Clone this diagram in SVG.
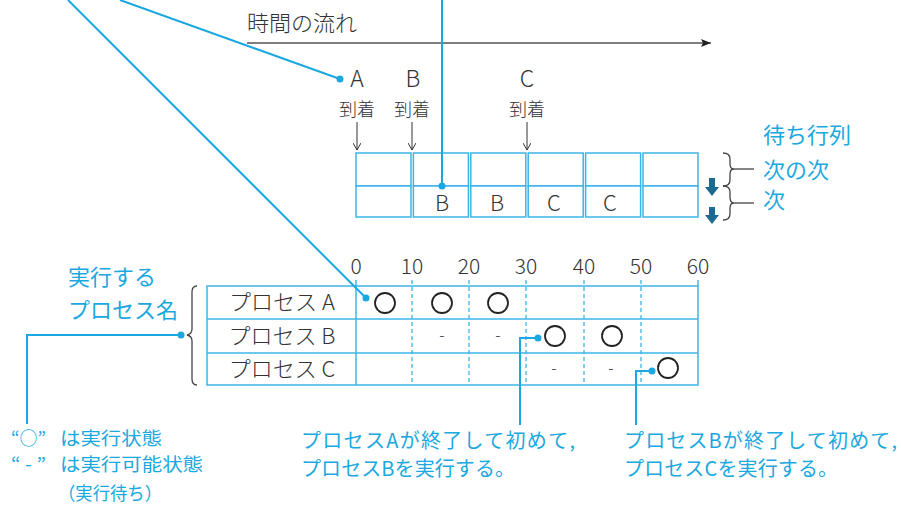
<svg xmlns="http://www.w3.org/2000/svg" width="901" height="507" viewBox="0 0 901 507">
<defs>
<style>
text{font-family:"Noto Sans CJK JP","Noto Sans",sans-serif}
.dk{fill:#333;font-weight:300}
.cy{fill:#1ba8e0}
.lead{stroke:#1ba8e0;stroke-width:2;fill:none}
.cell{stroke:#3db4e9;stroke-width:1.5;fill:#fff}
.grid{stroke:#3db4e9;stroke-width:1.5;fill:none}
.dash{stroke:#3db4e9;stroke-width:1.3;stroke-dasharray:4 3;fill:none}
.brace{stroke:#444;stroke-width:1.3;fill:none}
.run{stroke:#222;stroke-width:1.8;fill:none}
.dot{fill:#1ba8e0}
.darr{fill:#1b6a92}
</style>
<marker id="ah" viewBox="0 0 10 8" refX="10" refY="4" markerWidth="10" markerHeight="8" markerUnits="userSpaceOnUse" orient="auto">
<path d="M0,0 L10,4 L0,8 L2,4 Z" fill="#222"/>
</marker>
<marker id="va" viewBox="0 0 8 8" refX="4" refY="8" markerWidth="8" markerHeight="8" markerUnits="userSpaceOnUse" orient="0">
<path d="M0,1 L4,8 L8,1" fill="none" stroke="#333" stroke-width="1"/>
</marker>
</defs>

<g id="timeline">
<text x="247" y="31" font-size="22" class="dk">時間の流れ</text>
<line x1="247" y1="43" x2="711" y2="43" stroke="#555" stroke-width="1.5" marker-end="url(#ah)"/>
</g>

<g id="arrivals">
<text x="357" y="87" font-size="23" class="dk" text-anchor="middle">A</text>
<text x="413" y="87" font-size="23" class="dk" text-anchor="middle">B</text>
<text x="527" y="87" font-size="23" class="dk" text-anchor="middle">C</text>
<text x="357" y="116" font-size="18" class="dk" text-anchor="middle">到着</text>
<text x="412" y="116" font-size="18" class="dk" text-anchor="middle">到着</text>
<text x="527" y="116" font-size="18" class="dk" text-anchor="middle">到着</text>
<line x1="357" y1="122" x2="357" y2="150" stroke="#333" stroke-width="1" marker-end="url(#va)"/>
<line x1="412" y1="122" x2="412" y2="150" stroke="#333" stroke-width="1" marker-end="url(#va)"/>
<line x1="527" y1="122" x2="527" y2="150" stroke="#333" stroke-width="1" marker-end="url(#va)"/>
</g>

<g id="queue">
<rect class="cell" x="356" y="153" width="55" height="33"/><rect class="cell" x="356" y="186" width="55" height="31"/>
<rect class="cell" x="413.4" y="153" width="55" height="33"/><rect class="cell" x="413.4" y="186" width="55" height="31"/>
<rect class="cell" x="470.8" y="153" width="55" height="33"/><rect class="cell" x="470.8" y="186" width="55" height="31"/>
<rect class="cell" x="528.2" y="153" width="55" height="33"/><rect class="cell" x="528.2" y="186" width="55" height="31"/>
<rect class="cell" x="585.6" y="153" width="55" height="33"/><rect class="cell" x="585.6" y="186" width="55" height="31"/>
<rect class="cell" x="643" y="153" width="55" height="33"/><rect class="cell" x="643" y="186" width="55" height="31"/>
<text x="442" y="211" font-size="22" class="dk" text-anchor="middle">B</text>
<text x="497" y="211" font-size="22" class="dk" text-anchor="middle">B</text>
<text x="554" y="211" font-size="22" class="dk" text-anchor="middle">C</text>
<text x="610" y="211" font-size="22" class="dk" text-anchor="middle">C</text>
<path class="darr" d="M709,178 h6 v9 h4 l-7,9 l-7,-9 h4 Z"/>
<path class="darr" d="M709,207 h6 v8 h4 l-7,9 l-7,-9 h4 Z"/>
<path class="brace" d="M723,153 q7,0 7,6 v5 q0,5 4,5 q-4,0 -4,5 v6 q0,6 -7,6"/>
<path class="brace" d="M723,186 q7,0 7,6 v5 q0,6 4,6 q-4,0 -4,5 v6 q0,6 -7,6"/>
<line x1="734" y1="169" x2="754" y2="169" stroke="#444" stroke-width="1.3"/>
<line x1="734" y1="203" x2="754" y2="203" stroke="#444" stroke-width="1.3"/>
<text x="763" y="143" font-size="22" class="cy">待ち行列</text>
<text x="763" y="178" font-size="22" class="cy">次の次</text>
<text x="763" y="208" font-size="22" class="cy">次</text>
</g>

<g id="table">
<text x="356" y="274" font-size="21" class="dk" text-anchor="middle">0</text>
<text x="412" y="274" font-size="21" class="dk" text-anchor="middle">10</text>
<text x="469" y="274" font-size="21" class="dk" text-anchor="middle">20</text>
<text x="526" y="274" font-size="21" class="dk" text-anchor="middle">30</text>
<text x="584" y="274" font-size="21" class="dk" text-anchor="middle">40</text>
<text x="641" y="274" font-size="21" class="dk" text-anchor="middle">50</text>
<text x="698" y="274" font-size="21" class="dk" text-anchor="middle">60</text>
<rect class="grid" x="207" y="286" width="491" height="99"/>
<line class="grid" x1="207" y1="319" x2="698" y2="319"/>
<line class="grid" x1="207" y1="353" x2="698" y2="353"/>
<line class="grid" x1="356" y1="280" x2="356" y2="385"/>
<line class="grid" x1="698" y1="280" x2="698" y2="286"/>
<line class="dash" x1="412" y1="280" x2="412" y2="385"/>
<line class="dash" x1="469" y1="280" x2="469" y2="385"/>
<line class="dash" x1="526" y1="280" x2="526" y2="385"/>
<line class="dash" x1="584" y1="280" x2="584" y2="385"/>
<line class="dash" x1="641" y1="280" x2="641" y2="385"/>
<text x="282" y="310" font-size="22" class="dk" text-anchor="middle">プロセス A</text>
<text x="282" y="344" font-size="22" class="dk" text-anchor="middle">プロセス B</text>
<text x="282" y="377" font-size="22" class="dk" text-anchor="middle">プロセス C</text>
<circle class="run" cx="385" cy="303" r="10"/>
<circle class="run" cx="442" cy="303" r="10"/>
<circle class="run" cx="498" cy="303" r="10"/>
<circle class="run" cx="555" cy="336" r="10"/>
<circle class="run" cx="612" cy="336" r="10"/>
<circle class="run" cx="668" cy="368" r="10"/>
<text x="442" y="341" font-size="16" class="dk" text-anchor="middle">-</text>
<text x="498" y="341" font-size="16" class="dk" text-anchor="middle">-</text>
<text x="554" y="374" font-size="16" class="dk" text-anchor="middle">-</text>
<text x="611" y="374" font-size="16" class="dk" text-anchor="middle">-</text>
<path class="brace" d="M197,286 q-5,0 -5,6 v37 q0,5 -5,6 q5,1 5,6 v38 q0,6 5,6"/>
<text x="68" y="285" font-size="22" class="cy">実行する</text>
<text x="68" y="318" font-size="22" class="cy">プロセス名</text>
</g>

<g id="notes">
<text x="11" y="445" font-size="18" class="cy" textLength="35" lengthAdjust="spacingAndGlyphs">“○”</text>
<text x="60" y="445" font-size="18" class="cy" textLength="102" lengthAdjust="spacingAndGlyphs">は実行状態</text>
<text x="11" y="471" font-size="18" class="cy" textLength="35" lengthAdjust="spacingAndGlyphs">“ - ”</text>
<text x="60" y="471" font-size="18" class="cy" textLength="143" lengthAdjust="spacingAndGlyphs">は実行可能状態</text>
<text x="58" y="500" font-size="18" class="cy" textLength="104" lengthAdjust="spacingAndGlyphs">（実行待ち）</text>
<text x="301" y="448" font-size="20" class="cy" textLength="274">プロセスAが終了して初めて,</text>
<text x="301" y="476" font-size="20" class="cy" textLength="214">プロセスBを実行する。</text>
<text x="624" y="448" font-size="20" class="cy" textLength="273">プロセスBが終了して初めて,</text>
<text x="624" y="476" font-size="20" class="cy" textLength="214">プロセスCを実行する。</text>
</g>

<g id="connectors">
<line class="lead" x1="120" y1="0" x2="340" y2="79"/>
<circle class="dot" cx="340" cy="79" r="3.5"/>
<line class="lead" x1="68" y1="0" x2="366" y2="298"/>
<circle class="dot" cx="366" cy="298" r="3.5"/>
<line class="lead" x1="442" y1="0" x2="442" y2="186"/>
<circle class="dot" cx="442" cy="186" r="3.5"/>
<polyline class="lead" points="181,335 27,335 27,424"/>
<circle class="dot" cx="181" cy="335" r="3.5"/>
<polyline class="lead" points="538,338 520,338 520,425"/>
<circle class="dot" cx="538" cy="338" r="3.5"/>
<polyline class="lead" points="652,371 636,371 636,425"/>
<circle class="dot" cx="652" cy="371" r="3.5"/>
</g>
</svg>
